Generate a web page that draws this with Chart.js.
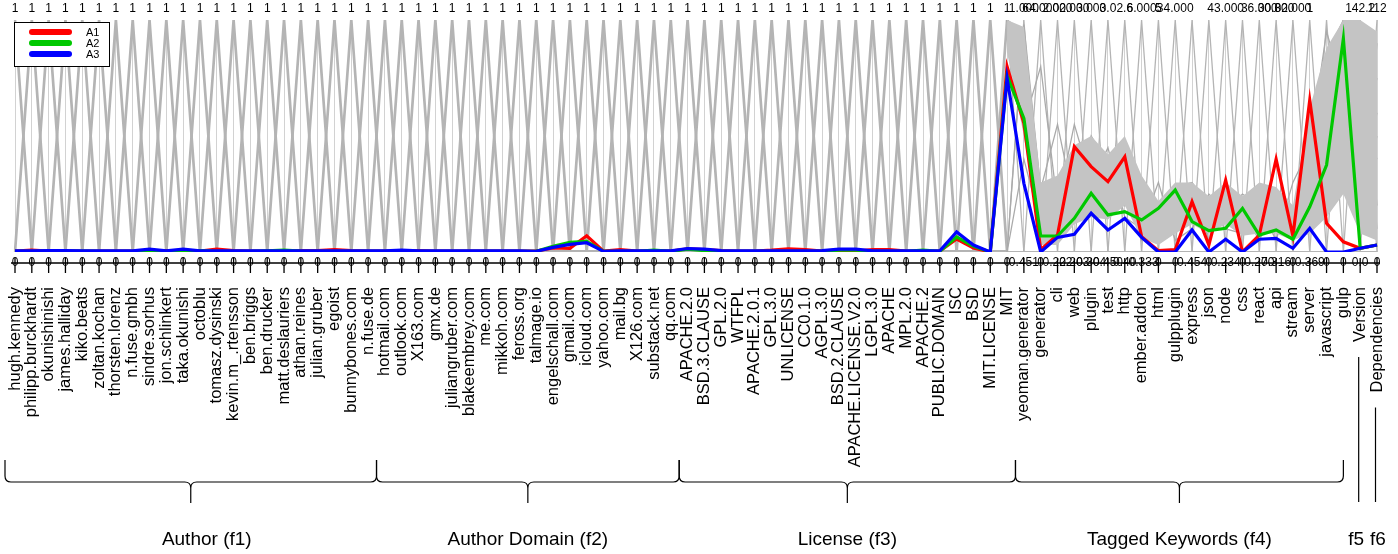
<!DOCTYPE html>
<html>
<head>
<meta charset="utf-8">
<script src="https://cdn.jsdelivr.net/npm/chart.js@4"></script>
<style>
  body { margin: 0; background: #fff; }
  canvas { display: block; }
</style>
</head>
<body>
<canvas id="pcpChart" width="1398" height="554" style="width:1398px; height:554px;"></canvas>
<script type="text/javascript">
// ---- categories (one parallel axis each) ----
var authors = ["hugh.kennedy", "philipp.burckhardt", "okunishinishi", "james.halliday", "kiko.beats",
  "zoltan.kochan", "thorsten.lorenz", "n.fuse.gmbh", "sindre.sorhus", "jon.schlinkert", "taka.okunishi",
  "octoblu", "tomasz.dysinski", "kevin.m_.rtensson", "ben.briggs", "ben.drucker", "matt.deslauriers",
  "athan.reines", "julian.gruber", "egoist", "bunnybones.com", "n.fuse.de"];
var domains = ["hotmail.com", "outlook.com", "X163.com", "gmx.de", "juliangruber.com", "blakeembrey.com",
  "me.com", "mikkoh.com", "feross.org", "talmage.io", "engelschall.com", "gmail.com", "icloud.com",
  "yahoo.com", "mail.bg", "X126.com", "substack.net", "qq.com"];
var licenses = ["APACHE.2.0", "BSD.3.CLAUSE", "GPL.2.0", "WTFPL", "APACHE.2.0.1", "GPL.3.0", "UNLICENSE",
  "CC0.1.0", "AGPL.3.0", "BSD.2.CLAUSE", "APACHE.LICENSE.V2.0", "LGPL.3.0", "APACHE", "MPL.2.0",
  "APACHE.2", "PUBLIC.DOMAIN", "ISC", "BSD", "MIT.LICENSE", "MIT"];
var keywords = ["yeoman.generator", "generator", "cli", "web", "plugin", "test", "http", "ember.addon",
  "html", "gulpplugin", "express", "json", "node", "css", "react", "api", "stream", "server",
  "javascript", "gulp"];
var numerics = ["Version", "Dependencies"];

var groupTitles = ["Author (f1)", "Author Domain (f2)", "License (f3)", "Tagged Keywords (f4)", "f5", "f6"];

// ---- axis end labels (binary axes show 1 on top, 0 at bottom) ----
var binaryTop = "1";
var binaryBottom = "0";
// yeoman.generator ... Dependencies
var numTopLabels = ["1.000", "64.000", "2.000", "2.000", "3.000", "3.0", "2.6", "6.000", "5", "34.000",
  "", "", "43.000", "", "36.000", "30.000", "32.000", "1", "", "", "142.2", "112"];
var numBottomLabels = ["0.451", "0", "0.222", "0.203", "0.304", "0.450", "0.40", "-0.333", "0", "0",
  "0.454", "0", "0.234", "0", "0.270", "0.316", "0", "0.369", "0", "0", "0.0", "0"];

// ---- highlighted series (normalised 0..1) ----
var seriesA1 = [
  0.004, 0.008, 0.004, 0.004, 0.004, 0.004, 0.004, 0.004, 0.004, 0.006, 0.004,
  0.004, 0.012, 0.006, 0.004, 0.004, 0.004, 0.006, 0.006, 0.010, 0.006, 0.004,
  0.004, 0.004, 0.006, 0.004, 0.004, 0.004, 0.004, 0.004, 0.004,
  0.004, 0.018, 0.016, 0.070, 0.004, 0.010, 0.004, 0.006, 0.004,
  0.014, 0.010, 0.006, 0.004, 0.004, 0.008, 0.014, 0.010, 0.004, 0.004,
  0.004, 0.010, 0.010, 0.004, 0.004, 0.004, 0.056, 0.017, 0.000, 0.800,
  0.555, 0.010, 0.073, 0.454, 0.368, 0.303, 0.410, 0.066, 0.006, 0.010,
  0.217, 0.030, 0.310, 0.000, 0.073, 0.400, 0.069, 0.655, 0.124, 0.044,
  0.016, 0.030];
var seriesA2 = [
  0.003, 0.003, 0.003, 0.003, 0.004, 0.003, 0.003, 0.003, 0.003, 0.003, 0.003,
  0.006, 0.003, 0.003, 0.003, 0.005, 0.008, 0.004, 0.003, 0.003, 0.003, 0.003,
  0.003, 0.003, 0.003, 0.003, 0.003, 0.003, 0.003, 0.003, 0.003,
  0.003, 0.025, 0.042, 0.046, 0.003, 0.003, 0.003, 0.008, 0.003,
  0.012, 0.006, 0.003, 0.003, 0.003, 0.003, 0.003, 0.003, 0.003, 0.008,
  0.008, 0.003, 0.003, 0.003, 0.008, 0.003, 0.065, 0.025, 0.000, 0.760,
  0.576, 0.069, 0.069, 0.145, 0.253, 0.160, 0.174, 0.138, 0.188, 0.267,
  0.131, 0.092, 0.102, 0.188, 0.073, 0.095, 0.055, 0.195, 0.375, 0.920,
  0.016, 0.030];
var seriesA3 = [
  0.005, 0.005, 0.006, 0.006, 0.005, 0.005, 0.005, 0.005, 0.012, 0.005, 0.012,
  0.005, 0.005, 0.005, 0.005, 0.005, 0.005, 0.005, 0.005, 0.005, 0.005, 0.005,
  0.005, 0.008, 0.005, 0.005, 0.005, 0.005, 0.005, 0.005, 0.005,
  0.003, 0.020, 0.033, 0.040, 0.003, 0.005, 0.005, 0.005, 0.005,
  0.015, 0.012, 0.006, 0.005, 0.005, 0.005, 0.005, 0.005, 0.006, 0.012,
  0.012, 0.005, 0.005, 0.005, 0.005, 0.005, 0.086, 0.030, 0.000, 0.750,
  0.296, 0.000, 0.063, 0.076, 0.167, 0.095, 0.145, 0.063, 0.000, 0.000,
  0.095, 0.000, 0.055, 0.000, 0.055, 0.059, 0.016, 0.102, 0.000, 0.000,
  0.016, 0.030];

// ---- background records, MIT ... Dependencies ----
var bandUpper = [1.00, 0.97, 0.30, 0.33, 0.46, 0.50, 0.42, 0.50, 0.33, 0.22, 0.30, 0.30,
  0.24, 0.30, 0.24, 0.30, 0.28, 0.20, 0.62, 0.88, 1.00, 1.00, 0.95];
var bandLower = [0.86, 0.50, 0.03, 0.03, 0.12, 0.15, 0.14, 0.20, 0.06, 0.03, 0.08, 0.12,
  0.08, 0.12, 0.07, 0.08, 0.08, 0.05, 0.08, 0.15, 0.25, 0.08, 0.05];
var bgRecords = [
  [1, 0.90, 0.20, 0.10, 0.30, 0.40, 0.30, 0.35, 0.20, 0.10, 0.20, 0.25, 0.15, 0.20, 0.15, 0.20, 0.20, 0.10, 0.40, 0.70, 0.95, 0.60, 0.40],
  [1, 0.60, 0.05, 0.25, 0.45, 0.28, 0.20, 0.45, 0.10, 0.05, 0.12, 0.18, 0.10, 0.25, 0.10, 0.15, 0.12, 0.06, 0.55, 0.30, 0.50, 0.10, 0.90],
  [0, 0.98, 0.27, 0.55, 0.20, 0.50, 0.38, 0.20, 0.30, 0.18, 0.28, 0.30, 0.20, 0.15, 0.22, 0.28, 0.25, 0.18, 0.12, 0.85, 1.00, 0.95, 0.20],
  [1, 0.75, 0.15, 0.05, 0.15, 0.20, 0.40, 0.30, 0.25, 0.20, 0.10, 0.15, 0.22, 0.28, 0.20, 0.10, 0.27, 0.12, 0.30, 0.50, 0.80, 0.30, 0.60],
  [0, 0.40, 0.12, 0.28, 0.40, 0.45, 0.25, 0.38, 0.15, 0.08, 0.25, 0.20, 0.18, 0.10, 0.08, 0.25, 0.10, 0.15, 0.60, 0.20, 0.35, 0.85, 0.10],
  [1, 0.95, 0.25, 0.15, 0.25, 0.35, 0.15, 0.25, 0.05, 0.12, 0.15, 0.28, 0.05, 0.20, 0.18, 0.05, 0.20, 0.08, 0.20, 0.65, 1.00, 0.45, 0.75],
  [1, 0.55, 0.80, 0.20, 0.55, 0.30, 0.45, 0.15, 0.10, 0.30, 0.05, 0.10, 0.25, 0.18, 0.25, 0.20, 0.05, 0.30, 0.45, 0.95, 0.70, 0.20, 0.50]
];

var categories = authors.concat(domains, licenses, keywords, numerics);
var groupSizes = [authors.length, domains.length, licenses.length, keywords.length, 1, 1];
var firstNumeric = authors.length + domains.length + licenses.length; // yeoman.generator
var topLabels = categories.map(function (c, i) { return i < firstNumeric ? binaryTop : numTopLabels[i - firstNumeric]; });
var bottomLabels = categories.map(function (c, i) { return i < firstNumeric ? binaryBottom : numBottomLabels[i - firstNumeric]; });

function tailRow(values) {
  // values start at the MIT axis
  var lead = [];
  for (var k = 0; k < firstNumeric - 1; k++) lead.push(null);
  return lead.concat(values);
}

var FONT = '"Liberation Sans", Arial, sans-serif';
var GRAY = "#b4b4b4";

var datasets = [
  { label: "A3", data: seriesA3, borderColor: "#0000ff", borderWidth: 3.2 },
  { label: "A2", data: seriesA2, borderColor: "#00c800", borderWidth: 3.2 },
  { label: "A1", data: seriesA1, borderColor: "#ff0000", borderWidth: 3.2 },
  { label: "bandLow", data: tailRow(bandLower), borderWidth: 0, borderColor: "rgba(0,0,0,0)", fill: false },
  { label: "bandHigh", data: tailRow(bandUpper), borderWidth: 0, borderColor: "rgba(0,0,0,0)", fill: "-1", backgroundColor: "#c4c4c4" }
];
bgRecords.forEach(function (r) {
  datasets.push({ label: "bg", data: tailRow(r), borderColor: "#aaaaaa", borderWidth: 1.3, fill: false });
});
// one record per category value: 1 on its own axis, 0 on the others
categories.forEach(function (c, i) {
  datasets.push({
    label: "bg",
    data: categories.map(function (d, j) { return j === i ? 1 : 0; }),
    borderColor: GRAY,
    borderWidth: 2.7,
    fill: false,
    segment: { borderWidth: function (ctx) { return ctx.p0DataIndex >= firstNumeric - 1 ? 1.3 : 2.7; } }
  });
});

function drawBrace(ctx, x0, x1, yTop, yMid, yTip) {
  var xm = (x0 + x1) / 2, r = 6;
  ctx.beginPath();
  ctx.moveTo(x0, yTop);
  ctx.lineTo(x0, yMid - r);
  ctx.quadraticCurveTo(x0, yMid, x0 + r, yMid);
  ctx.lineTo(xm - r, yMid);
  ctx.quadraticCurveTo(xm, yMid, xm, yMid + r);
  ctx.lineTo(xm, yTip);
  ctx.moveTo(xm, yMid + r);
  ctx.quadraticCurveTo(xm, yMid, xm + r, yMid);
  ctx.lineTo(x1 - r, yMid);
  ctx.quadraticCurveTo(x1, yMid, x1, yMid - r);
  ctx.lineTo(x1, yTop);
  ctx.stroke();
}

var decorPlugin = {
  id: "decor",
  afterDraw: function (chart) {
    var ctx = chart.ctx;
    var xs = chart.scales.x;
    var px = function (i) { return xs.getPixelForValue(i); };
    var n = categories.length;
    ctx.save();

    // top labels
    ctx.fillStyle = "#000";
    ctx.font = "12px " + FONT;
    ctx.textAlign = "center";
    ctx.textBaseline = "middle";
    topLabels.forEach(function (t, i) { ctx.fillText(t, px(i), 9); });

    // bottom axis with ticks and labels
    ctx.strokeStyle = "#000";
    ctx.lineWidth = 1.3;
    ctx.beginPath();
    ctx.moveTo(px(0) - 4, 263);
    ctx.lineTo(px(n - 1) + 3, 263);
    for (var i = 0; i < n; i++) {
      ctx.moveTo(px(i), 258);
      ctx.lineTo(px(i), 273);
    }
    ctx.stroke();
    bottomLabels.forEach(function (t, i) { ctx.fillText(t, px(i), 263); });

    // rotated category names
    ctx.font = "16.5px " + FONT;
    ctx.textAlign = "right";
    var labelEnds = [];
    categories.forEach(function (c, i) {
      ctx.save();
      ctx.translate(px(i), 287);
      ctx.rotate(-Math.PI / 2);
      ctx.fillText(c, 0, 0);
      ctx.restore();
      labelEnds.push(287 + ctx.measureText(c).width);
    });

    // braces and group titles
    ctx.lineWidth = 1.2;
    ctx.font = "19px " + FONT;
    ctx.textAlign = "center";
    var start = 0;
    groupSizes.forEach(function (size, g) {
      var end = start + size - 1;
      var titleX;
      if (size > 1) {
        var x0 = start === 0 ? px(0) - 10 : (px(start - 1) + px(start)) / 2;
        var x1 = end + 1 < firstNumeric + keywords.length ? (px(end) + px(end + 1)) / 2 : px(end);
        drawBrace(ctx, x0, x1, 460, 482, 503);
        titleX = (x0 + x1) / 2 + (g === 0 ? 16 : 0);
      } else {
        ctx.beginPath();
        ctx.moveTo(px(start) - 1.5, labelEnds[start] + 15);
        ctx.lineTo(px(start) - 1.5, 502);
        ctx.stroke();
        titleX = px(start) + (g === 4 ? -4 : 1);
      }
      ctx.fillText(groupTitles[g], titleX, 540);
      start = end + 1;
    });

    // legend
    ctx.fillStyle = "#fff";
    ctx.fillRect(14, 22, 95, 44);
    ctx.strokeStyle = "#000";
    ctx.lineWidth = 1;
    ctx.strokeRect(14.5, 22.5, 95, 44);
    var legendItems = [["A1", "#ff0000"], ["A2", "#00c800"], ["A3", "#0000ff"]];
    ctx.lineCap = "round";
    ctx.font = "11px " + FONT;
    ctx.textAlign = "left";
    legendItems.forEach(function (it, k) {
      var y = 32 + k * 11;
      ctx.strokeStyle = it[1];
      ctx.lineWidth = 6;
      ctx.beginPath();
      ctx.moveTo(32, y);
      ctx.lineTo(69, y);
      ctx.stroke();
      ctx.fillStyle = "#000";
      ctx.fillText(it[0], 86, y + 1);
    });
    ctx.restore();
  }
};

var chart = new Chart("pcpChart", {
  type: "line",
  data: { labels: categories, datasets: datasets },
  options: {
    responsive: false,
    animation: false,
    events: [],
    elements: { point: { radius: 0 }, line: { tension: 0 } },
    layout: { padding: { left: 15, right: 21, top: 20, bottom: 302 } },
    scales: {
      x: {
        display: true,
        grid: { color: "#d2d2d2", drawTicks: false },
        border: { display: false },
        ticks: { display: false }
      },
      y: { display: false, min: 0, max: 1 }
    },
    plugins: {
      legend: { display: false },
      tooltip: { enabled: false }
    }
  },
  plugins: [decorPlugin]
});
</script>
</body>
</html>
